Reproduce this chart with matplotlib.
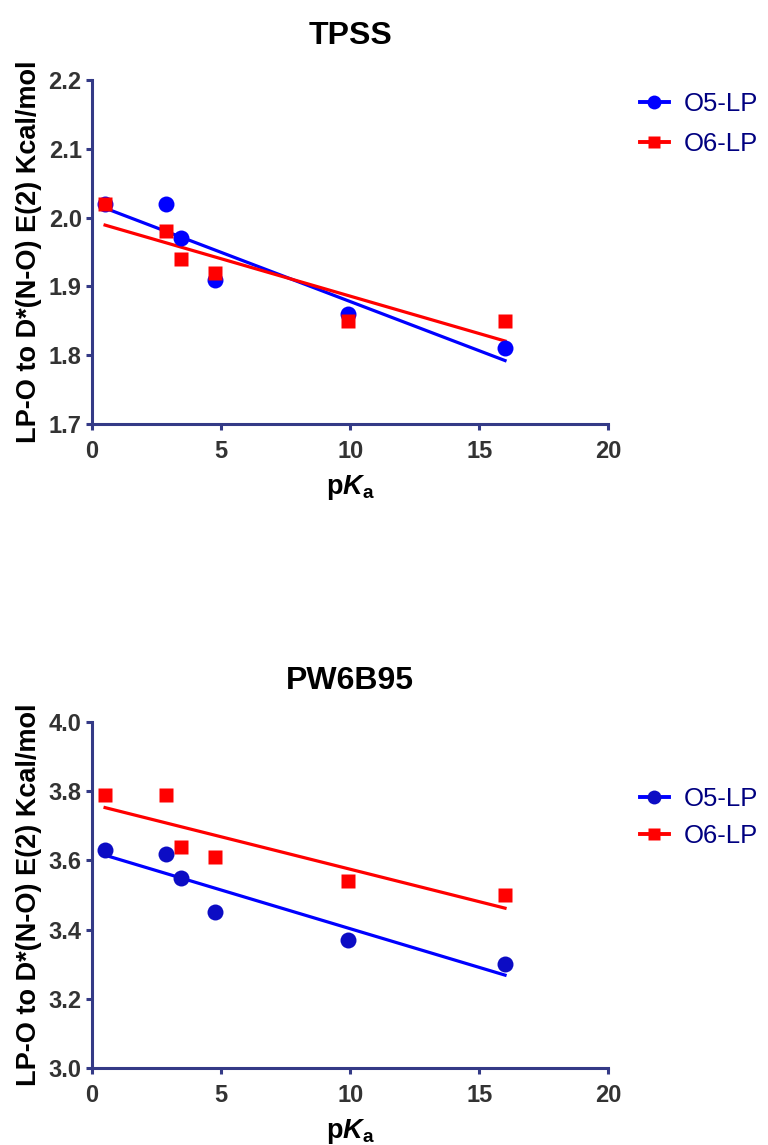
import numpy as np
import matplotlib
matplotlib.use('Agg')
import matplotlib.pyplot as plt

plt.rcParams['font.family'] = ['Liberation Sans', 'DejaVu Sans']
plt.rcParams['mathtext.fontset'] = 'custom'
plt.rcParams['mathtext.rm'] = 'Liberation Sans:bold'
plt.rcParams['mathtext.bf'] = 'Liberation Sans:bold'
plt.rcParams['mathtext.it'] = 'Liberation Sans:bold:italic'

# data
pka = [0.5, 2.86, 3.45, 4.76, 9.9, 16.0]
tpss_o5 = [2.02, 2.02, 1.97, 1.91, 1.86, 1.81]
tpss_o6 = [2.02, 1.98, 1.94, 1.92, 1.85, 1.85]
pw_o5 = [3.63, 3.62, 3.55, 3.45, 3.37, 3.30]
pw_o6 = [3.79, 3.79, 3.64, 3.61, 3.54, 3.50]

titles = ['TPSS', 'PW6B95']
ylims = [(1.7, 2.2), (3.0, 4.0)]
yticks = [[1.7, 1.8, 1.9, 2.0, 2.1, 2.2], [3.0, 3.2, 3.4, 3.6, 3.8, 4.0]]
xticks = [0, 5, 10, 15, 20]

axis_col = '#343a86'
tick_col = '#333333'
circle_cols = ['#0000ff', '#0c0cc4']  # bottom panel dots are a darker blue
legend_y = [0.966, 0.812]
legend_sp = [0.62, 0.52]
title_pad = [26, 24]

fig = plt.figure(figsize=(7.68, 11.45), dpi=100)
ax_top = fig.add_axes([0.120, 0.6297, 0.672, 0.3004])
ax_bot = fig.add_axes([0.120, 0.0672, 0.672, 0.3022])

for i, ax in enumerate([ax_top, ax_bot]):
    o5 = [tpss_o5, pw_o5][i]
    o6 = [tpss_o6, pw_o6][i]
    x = np.array(pka)
    xs = np.array([x.min(), x.max()])
    series = [(o5, '#0000ff', circle_cols[i], 'o', 11.5, 'O5-LP'),
              (o6, '#ff0000', '#ff0000', 's', 10, 'O6-LP')]
    for y, lcol, mcol, mk, ms, lab in series:
        m, b = np.polyfit(x, y, 1)
        ax.plot(xs, m * xs + b, color=lcol, lw=2.3, zorder=2)
        ax.plot(x, y, ls='none', marker=mk, color=mcol, ms=ms, mec='none', zorder=3)
        ax.plot([], [], color=lcol, lw=2.8, marker=mk, mfc=mcol, ms=ms - 1.5,
                mec='none', label=lab)

    ax.set_xlim(0, 20)
    ax.set_ylim(*ylims[i])
    ax.set_xticks(xticks)
    ax.set_yticks(yticks[i])
    ax.set_yticklabels(['%.1f' % v for v in yticks[i]])
    for s in ['top', 'right']:
        ax.spines[s].set_visible(False)
    for s in ['left', 'bottom']:
        ax.spines[s].set_color(axis_col)
        ax.spines[s].set_linewidth(2.2)
        ax.spines[s].set_capstyle('projecting')
    ax.tick_params(direction='out', length=4.5, width=2.2, color=axis_col,
                   labelcolor=tick_col, labelsize=17, pad=3)
    ax.tick_params(axis='x', pad=7)
    for lbl in ax.get_xticklabels() + ax.get_yticklabels():
        lbl.set_fontweight('bold')
    ax.set_title(titles[i], fontsize=23, fontweight='bold', pad=title_pad[i])
    ax.set_xlabel(r'p$\mathit{K}_\mathrm{a}$', fontsize=19.5, fontweight='bold', labelpad=7)
    ax.set_ylabel('LP-O to D*(N-O) E(2) Kcal/mol', fontsize=19.5, fontweight='bold', labelpad=5)
    leg = ax.legend(loc='upper left', bbox_to_anchor=(1.062, legend_y[i]), frameon=False,
                    fontsize=18.5, handlelength=1.1, handletextpad=0.6,
                    labelspacing=legend_sp[i], borderpad=0, borderaxespad=0)
    for t in leg.get_texts():
        t.set_color('#000080')

fig.savefig('out.png', dpi=100)
